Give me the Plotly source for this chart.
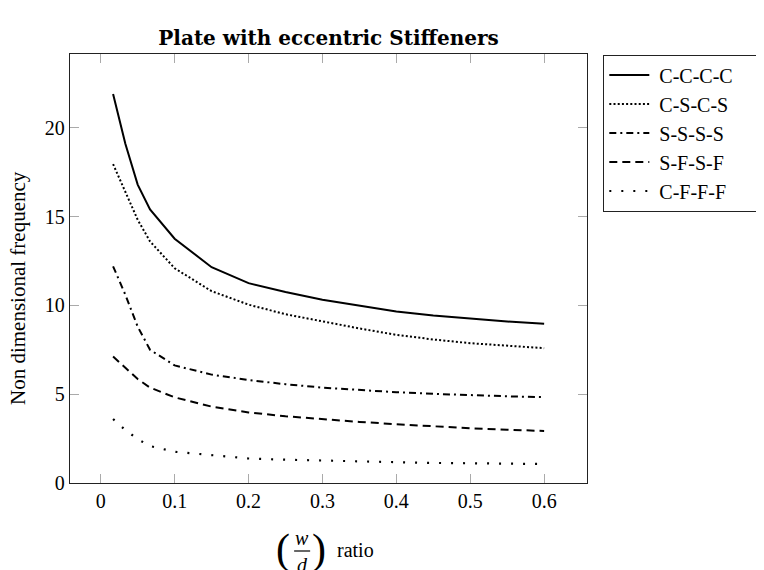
import plotly.graph_objects as go

# ---- data ----
ratio = [0.0167, 0.0333, 0.05, 0.0667, 0.1, 0.15, 0.2, 0.25, 0.3, 0.35, 0.4, 0.45, 0.5, 0.55, 0.6]
cccc = [21.9, 19.1, 16.8, 15.4, 13.75, 12.15, 11.25, 10.75, 10.31, 9.97, 9.65, 9.43, 9.24, 9.09, 8.96]
cscs = [17.95, 16.38, 14.82, 13.6, 12.09, 10.8, 10.04, 9.5, 9.09, 8.7, 8.34, 8.08, 7.87, 7.72, 7.59]
ssss = [12.2, 10.6, 8.8, 7.5, 6.62, 6.1, 5.8, 5.56, 5.37, 5.22, 5.11, 5.02, 4.94, 4.88, 4.83]
sfsf = [7.12, 6.5, 5.85, 5.37, 4.82, 4.3, 3.97, 3.76, 3.59, 3.44, 3.31, 3.19, 3.08, 3.0, 2.93]
cfff = [3.6, 2.98, 2.47, 2.08, 1.76, 1.55, 1.38, 1.31, 1.26, 1.2, 1.16, 1.13, 1.11, 1.09, 1.07]
series_names = ["C-C-C-C", "C-S-C-S", "S-S-S-S", "S-F-S-F", "C-F-F-F"]
x_ticks = [0, 0.1, 0.2, 0.3, 0.4, 0.5, 0.6]
x_tick_labels = ["0", "0.1", "0.2", "0.3", "0.4", "0.5", "0.6"]
y_ticks = [0, 5, 10, 15, 20]
y_tick_labels = ["0", "5", "10", "15", "20"]

SERIF = "Liberation Serif"
W, H = 764, 570
OFF = 8  # page body margin: figure is drawn 8px right/down of the window corner
L, R, T, B = 70 - OFF, 586.7 - OFF, 54 - OFF, 483 - OFF

def px(X):
    return (X - OFF - L) / (R - L)

def py(Y):
    return (B - (Y - OFF)) / (B - T)

styles = [
    dict(dash="solid", width=2),
    dict(dash="2px,2.2px", width=2),
    dict(dash="7px,4px,2px,4px", width=2),
    dict(dash="8px,5px", width=2),
    dict(dash="2px,10px", width=2.2),
]

NB = "\u00a0"
fig = go.Figure()
for name, ys, st in zip(series_names, [cccc, cscs, ssss, sfsf, cfff], styles):
    fig.add_trace(go.Scatter(x=ratio, y=ys, mode="lines", name=NB + name + NB * 5,
                             line=dict(color="black", dash=st["dash"], width=st["width"])))

axis_common = dict(
    showgrid=False, zeroline=False, showline=True, linecolor="#222222", linewidth=1.3,
    mirror="allticks", ticks="inside", ticklen=9, tickcolor="#aaaaaa", tickwidth=1,
    tickfont=dict(family=SERIF, size=20, color="black"),
)

fig.update_layout(
    width=W, height=H,
    margin=dict(l=L, r=W - R, t=T, b=H - B, autoexpand=False),
    paper_bgcolor="white", plot_bgcolor="white",
    title=dict(text="<b>Plate with eccentric Stiffeners</b>", x=0.5, xref="paper",
               y=1 - (38 - OFF) / H, yref="container", yanchor="middle", xanchor="center",
               font=dict(family="DejaVu Serif", size=20, color="black")),
    xaxis=dict(range=[-0.0416, 0.658], tickvals=x_ticks, ticktext=x_tick_labels, **axis_common),
    yaxis=dict(range=[0, 24.15], tickvals=y_ticks, ticktext=y_tick_labels, **axis_common),
    legend=dict(x=px(603), y=py(54.5), xanchor="left", yanchor="top",
                bordercolor="#222222", borderwidth=1, bgcolor="white",
                font=dict(family=SERIF, size=20, color="black"),
                tracegroupgap=0, itemwidth=40),
    showlegend=True,
)

ann_font = dict(family=SERIF, size=20, color="black")
annotations = [
    dict(text="Non dimensional frequency", x=px(18), y=py(288), textangle=-90,
         font=dict(family=SERIF, size=21, color="black")),
    dict(text="(", x=px(283), y=py(549), font=dict(family=SERIF, size=42, color="black")),
    dict(text="<i>w</i>", x=px(302), y=py(538), font=ann_font),
    dict(text="<i>d</i>", x=px(302), y=py(565), font=ann_font),
    dict(text=")", x=px(319), y=py(549), font=dict(family=SERIF, size=42, color="black")),
    dict(text="ratio", x=px(355), y=py(550), font=ann_font),
]
for a in annotations:
    a.update(xref="paper", yref="paper", showarrow=False, xanchor="center", yanchor="middle")
fig.update_layout(annotations=annotations)
fig.add_shape(type="line", xref="paper", yref="paper", x0=px(294), x1=px(310),
              y0=py(551), y1=py(551), line=dict(color="black", width=1.2))

fig.write_html("out.html")
